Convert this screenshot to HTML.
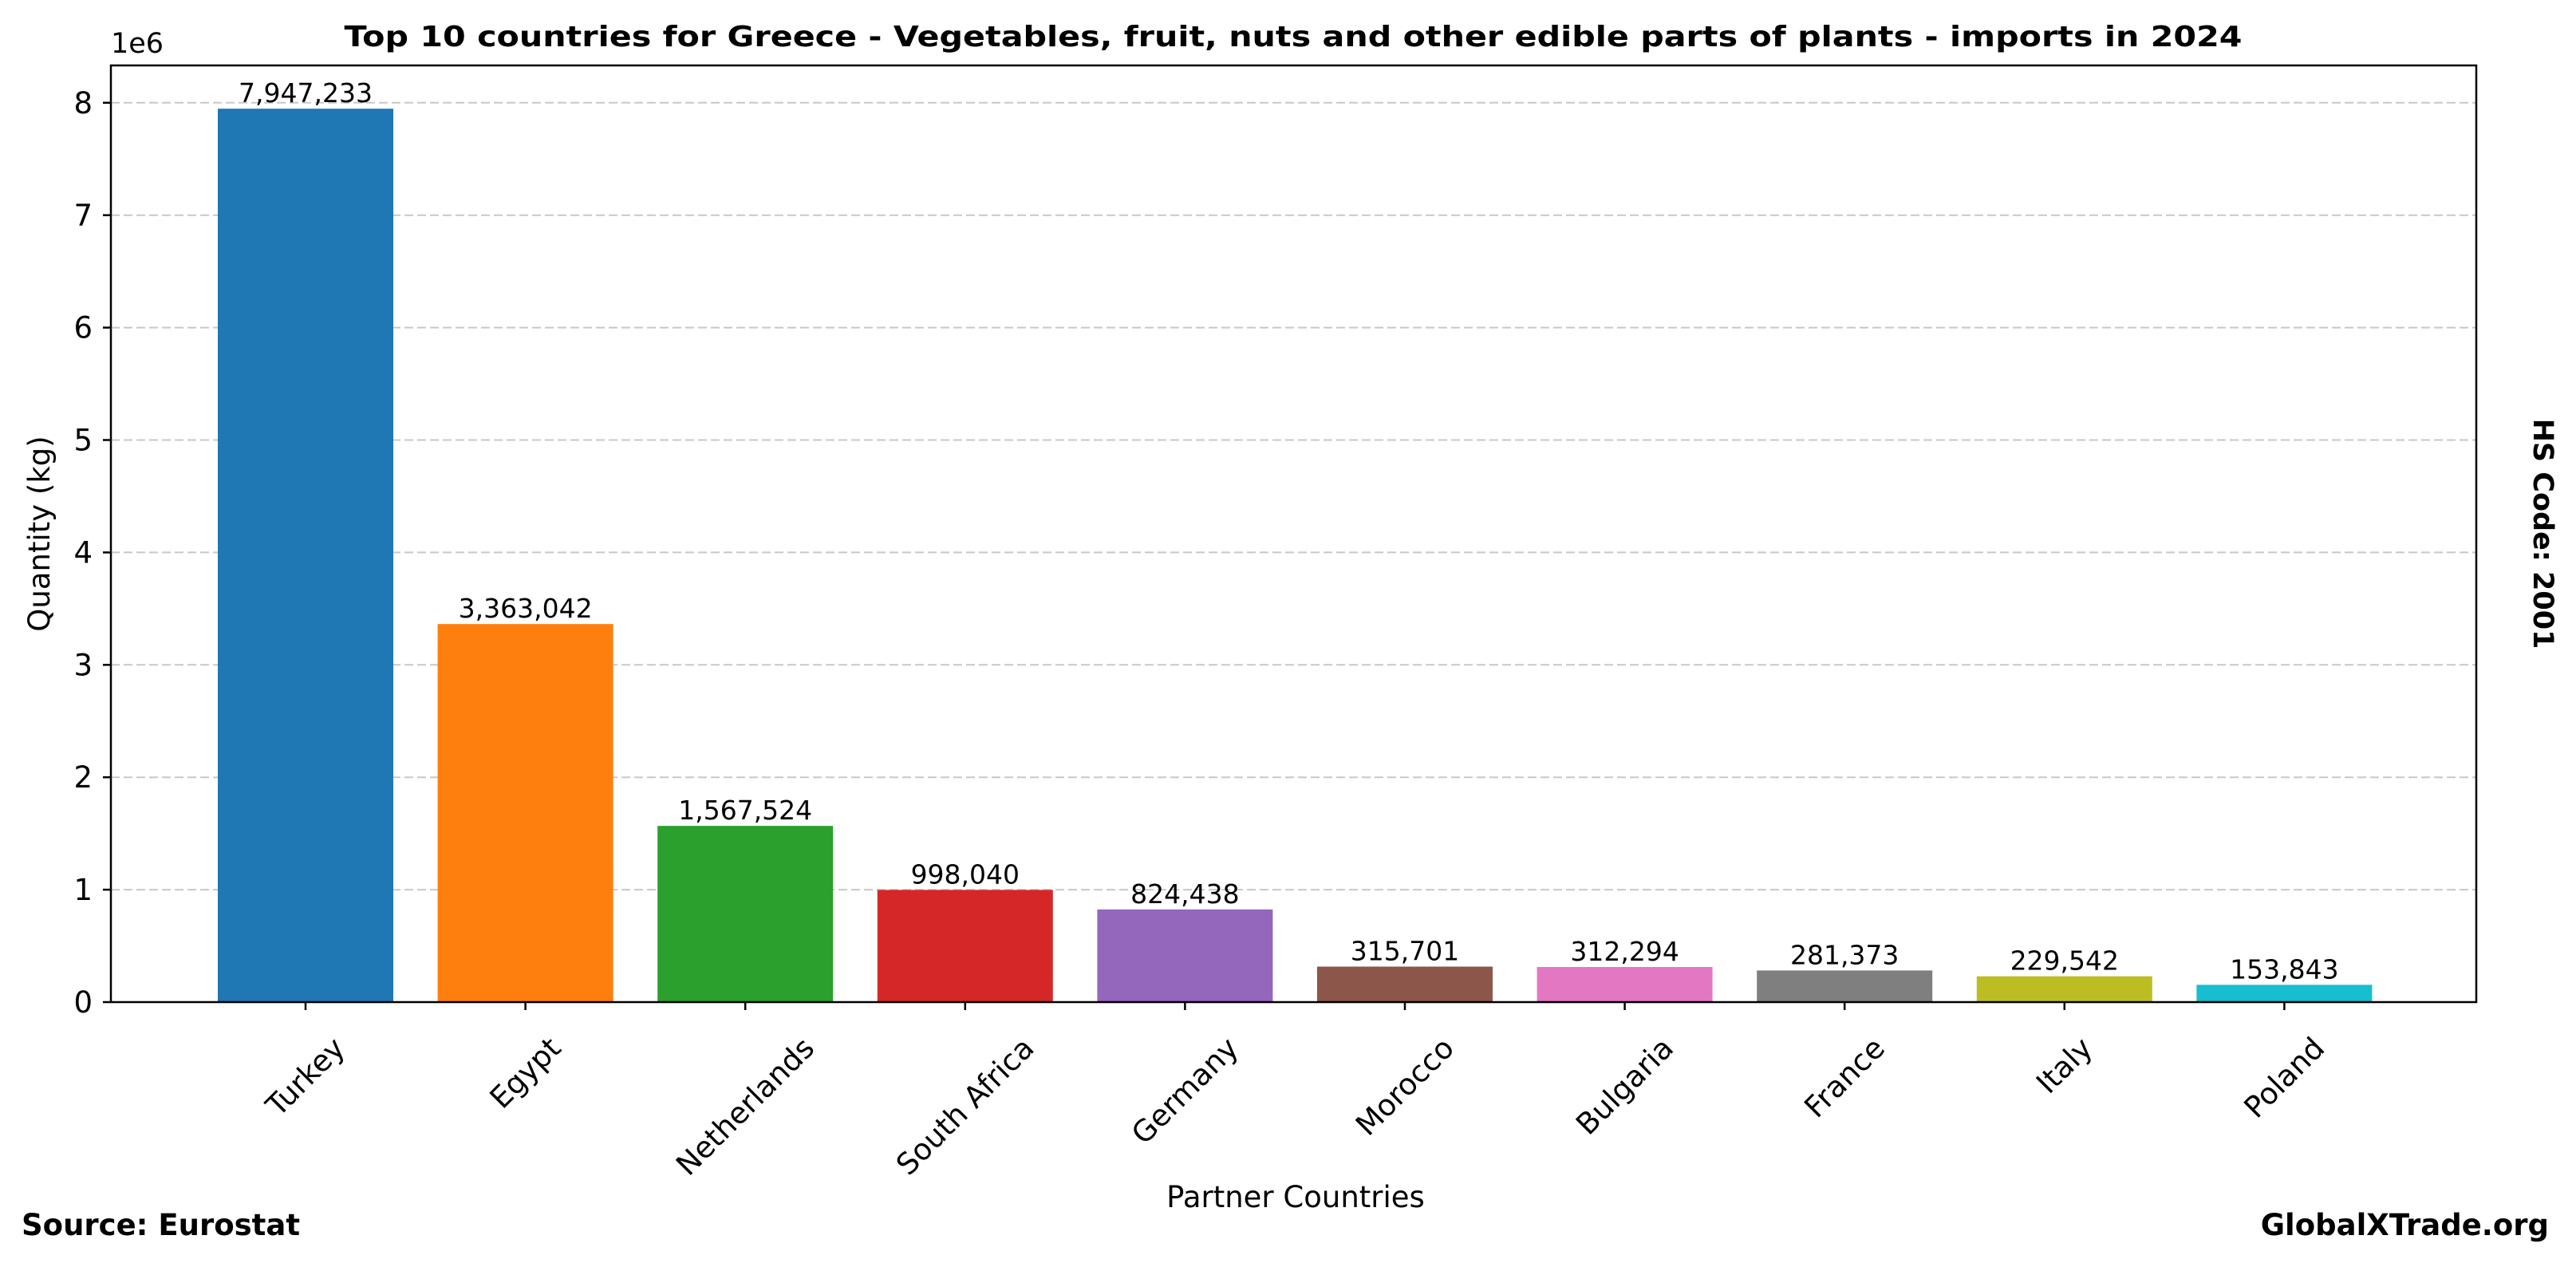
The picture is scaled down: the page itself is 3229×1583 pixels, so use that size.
<!DOCTYPE html>
<html><head><meta charset="utf-8"><style>
html,body{margin:0;padding:0;background:#fff;}
svg{display:block;font-family:"DejaVu Sans","Liberation Sans",sans-serif;}
</style></head><body>
<svg id="s" width="3229" height="1583" viewBox="0 0 3229 1583" xmlns="http://www.w3.org/2000/svg">
<rect width="3229" height="1583" fill="#fff"/>
<g id="grid" stroke="#b0b0b0" stroke-opacity="0.7" stroke-width="2" stroke-dasharray="11,5"></g>
<g id="bars"></g>
<rect x="139" y="82" width="2965" height="1174" fill="none" stroke="#000" stroke-width="2.5"/>
<g id="ticks" stroke="#000" stroke-width="2.5"></g>
<g id="txt" font-size="33" fill="#000"></g>
<text x="1621" y="58" font-size="36" font-weight="bold" text-anchor="middle" textLength="2379" lengthAdjust="spacingAndGlyphs">Top 10 countries for Greece - Vegetables, fruit, nuts and other edible parts of plants - imports in 2024</text>
<text x="139" y="66" font-size="35">1e6</text>
<text transform="translate(62,669) rotate(-90)" font-size="37" text-anchor="middle">Quantity (kg)</text>
<text x="1624" y="1513" font-size="37" text-anchor="middle">Partner Countries</text>
<text transform="translate(3176,669) rotate(90)" font-size="35" font-weight="bold" text-anchor="middle">HS Code: 2001</text>
<text x="27" y="1548" font-size="37" font-weight="bold">Source: Eurostat</text>
<text x="3195" y="1548" font-size="37" font-weight="bold" text-anchor="end">GlobalXTrade.org</text>
</svg>
<script>
var NS="http://www.w3.org/2000/svg";
var data=[["Turkey",7947233,"#1f77b4"],["Egypt",3363042,"#ff7f0e"],["Netherlands",1567524,"#2ca02c"],["South Africa",998040,"#d62728"],["Germany",824438,"#9467bd"],["Morocco",315701,"#8c564b"],["Bulgaria",312294,"#e377c2"],["France",281373,"#7f7f7f"],["Italy",229542,"#bcbd22"],["Poland",153843,"#17becf"]];
var y0=1256,u=140.9,x0=383,sp=275.6,bw=220;
function el(n,a,p,t){var e=document.createElementNS(NS,n);for(var k in a)e.setAttribute(k,a[k]);if(t!==undefined)e.textContent=t;document.getElementById(p).appendChild(e);return e;}
for(var i=0;i<=8;i++){var y=y0-i*u;
 if(i>0)el("line",{x1:139,x2:3104,y1:y,y2:y},"grid");
 el("line",{x1:129,x2:139,y1:y,y2:y},"ticks");
 el("text",{x:116,y:y+13,"text-anchor":"end","font-size":37},"txt",""+i);}
data.forEach(function(d,i){var cx=x0+i*sp,h=d[1]/1e6*u;
 el("rect",{x:cx-bw/2,y:y0-h,width:bw,height:h,fill:d[2]},"bars");
 el("text",{x:cx,y:y0-h-8,"text-anchor":"middle"},"txt",d[1].toLocaleString("en-US"));
 el("line",{x1:cx,x2:cx,y1:y0,y2:y0+10},"ticks");
 var t=el("text",{x:0,y:0,"text-anchor":"middle","dominant-baseline":"central","font-size":37},"txt",d[0]);
 var L=t.getComputedTextLength(),H=40,hh=(L+H)*0.7071;
 t.setAttribute("transform","translate("+cx+","+(1293+hh/2)+") rotate(-45)");
});
</script>
</body></html>
